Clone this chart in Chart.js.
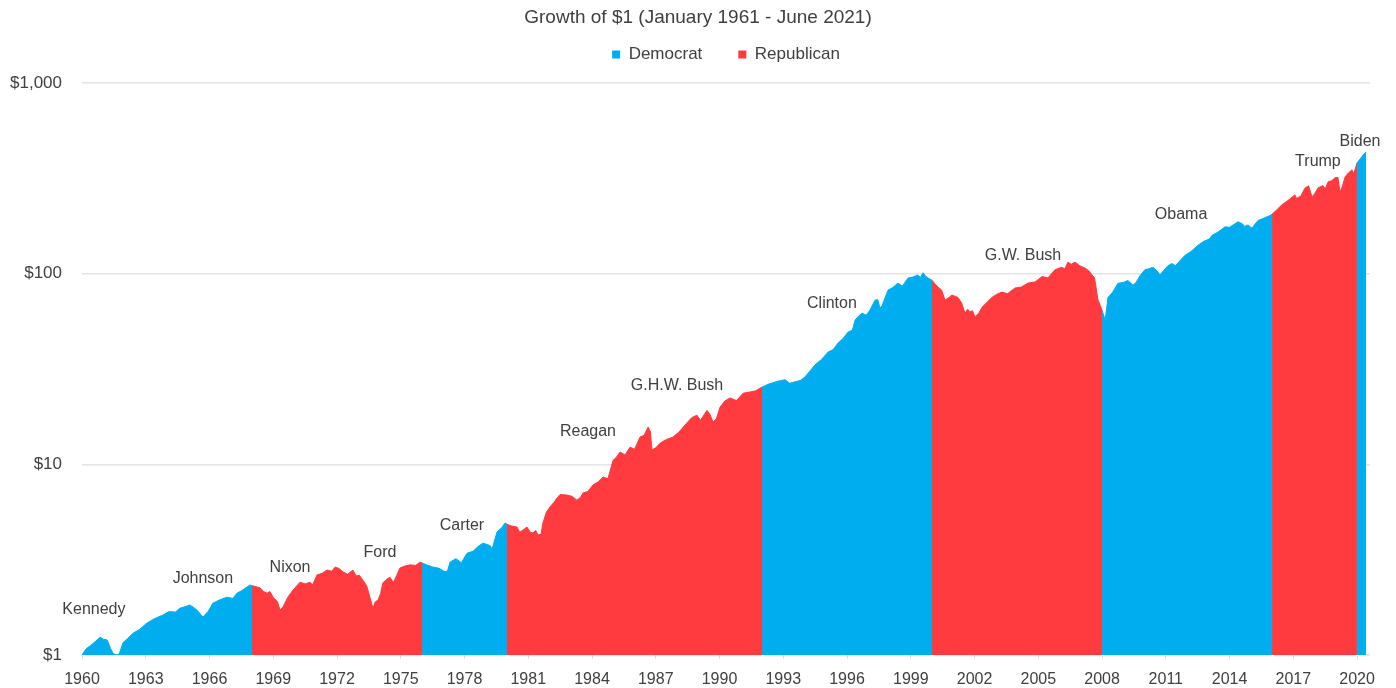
<!DOCTYPE html>
<html>
<head>
<meta charset="utf-8">
<script src="https://cdn.jsdelivr.net/npm/chart.js@4.4.0/dist/chart.umd.min.js"></script>
<style>
html,body{margin:0;padding:0;background:#ffffff;}
#wrap{width:1396px;height:688px;position:relative;}
</style>
</head>
<body>
<div id="wrap"><canvas id="c" width="1396" height="688"></canvas></div>
<script>
// ---- Data (growth of $1) ----
const dates = [
  1961.00,1961.20,1961.40,1961.60,1961.85,1962.00,1962.18,1962.35,1962.46,1962.60,1962.75,1962.93,
  1963.15,1963.40,1963.70,1964.06,1964.40,1964.81,1965.10,1965.40,1965.61,1965.90,1966.08,1966.30,
  1966.41,1966.69,1966.95,1967.16,1967.50,1967.82,1968.10,1968.29,1968.50,1968.76,1968.90,1969.00,
  1969.20,1969.38,1969.55,1969.71,1969.85,1969.99,1970.20,1970.32,1970.40,1970.46,1970.70,1970.93,
  1971.10,1971.26,1971.50,1971.73,1971.85,1972.06,1972.30,1972.53,1972.75,1972.91,1973.10,1973.28,
  1973.50,1973.75,1973.90,1974.05,1974.22,1974.40,1974.55,1974.69,1974.80,1974.93,1975.05,1975.16,
  1975.35,1975.49,1975.65,1975.80,1975.96,1976.20,1976.44,1976.70,1976.91,1977.00,
  1977.25,1977.52,1977.80,1978.08,1978.20,1978.32,1978.60,1978.85,1979.12,1979.40,1979.65,1979.87,
  1980.20,1980.30,1980.53,1980.75,1980.91,1981.00,
  1981.20,1981.47,1981.60,1981.75,1981.94,1982.10,1982.22,1982.35,1982.46,1982.60,1982.69,1982.85,
  1983.02,1983.20,1983.35,1983.50,1983.82,1984.05,1984.29,1984.45,1984.58,1984.80,1985.05,1985.30,
  1985.52,1985.75,1985.99,1986.15,1986.32,1986.55,1986.79,1987.00,1987.26,1987.45,1987.64,1987.75,
  1987.82,1988.00,1988.20,1988.50,1988.81,1989.10,1989.47,1989.70,1989.94,1990.10,1990.41,1990.55,
  1990.69,1990.85,1991.02,1991.25,1991.49,1991.80,1992.11,1992.40,1992.70,1992.91,1993.00,
  1993.25,1993.47,1993.75,1994.08,1994.30,1994.55,1994.80,1995.02,1995.25,1995.49,1995.80,1996.11,
  1996.35,1996.58,1996.80,1997.05,1997.25,1997.38,1997.55,1997.71,1997.90,1998.08,1998.32,1998.45,
  1998.55,1998.65,1998.93,1999.15,1999.40,1999.60,1999.87,2000.10,2000.34,2000.45,2000.58,2000.70,
  2000.81,2001.00,
  2001.15,2001.28,2001.45,2001.61,2001.80,2001.94,2002.10,2002.22,2002.40,2002.55,2002.68,2002.79,
  2002.90,2003.02,2003.20,2003.35,2003.60,2003.82,2004.05,2004.29,2004.55,2004.91,2005.20,2005.52,
  2005.85,2006.18,2006.45,2006.79,2007.10,2007.25,2007.40,2007.55,2007.73,2007.95,2008.20,2008.40,
  2008.53,2008.65,2008.81,2008.92,2009.00,
  2009.15,2009.28,2009.50,2009.75,2010.00,2010.22,2010.46,2010.60,2010.80,2011.02,2011.20,2011.40,
  2011.60,2011.73,2011.90,2012.10,2012.29,2012.45,2012.70,2012.91,2013.20,2013.52,2013.80,2014.05,
  2014.18,2014.45,2014.79,2015.00,2015.40,2015.60,2015.70,2015.87,2016.06,2016.20,2016.34,2016.60,
  2016.91,2017.00,
  2017.20,2017.47,2017.75,2018.08,2018.15,2018.35,2018.55,2018.72,2018.88,2019.00,2019.16,2019.40,
  2019.50,2019.64,2019.80,2019.96,2020.10,2020.20,2020.30,2020.44,2020.60,2020.76,2020.85,2021.00,
  2021.15,2021.28,2021.42
];
const growth = [
  1.00,1.08,1.12,1.17,1.24,1.21,1.20,1.08,1.02,1.00,1.01,1.16,
  1.22,1.30,1.36,1.47,1.55,1.62,1.69,1.68,1.76,1.80,1.83,1.76,
  1.72,1.58,1.70,1.87,1.95,2.01,1.98,2.11,2.17,2.27,2.33,2.31,
  2.28,2.25,2.15,2.11,2.15,2.01,1.90,1.72,1.76,1.79,2.02,2.19,
  2.30,2.41,2.36,2.41,2.33,2.63,2.68,2.79,2.75,2.89,2.84,2.73,
  2.65,2.79,2.60,2.62,2.47,2.30,2.01,1.76,1.90,1.94,2.10,2.39,
  2.50,2.56,2.40,2.60,2.86,2.93,2.97,2.95,3.07,3.04,
  2.96,2.89,2.85,2.73,2.76,3.07,3.20,3.05,3.42,3.50,3.72,3.86,
  3.75,3.60,4.42,4.65,4.93,4.85,
  4.75,4.69,4.40,4.52,4.69,4.40,4.37,4.50,4.26,4.30,4.93,5.60,
  5.98,6.30,6.65,6.95,6.90,6.80,6.49,6.70,7.08,7.20,7.80,8.10,
  8.58,8.40,10.5,10.9,11.6,11.2,12.3,12.0,13.9,14.2,15.7,14.8,
  11.9,12.2,12.9,13.5,13.9,14.8,16.5,17.6,18.1,17.0,19.2,18.3,
  16.7,17.3,19.9,21.5,22.3,21.6,23.6,23.9,24.3,25.1,25.4,
  26.2,26.7,27.3,27.8,26.6,27.1,27.5,28.7,30.8,33.2,35.5,38.8,
  40.0,43.3,45.5,49.4,50.5,57.1,60.0,62.1,60.5,64.4,72.7,73.0,
  66.0,68.0,82.0,84.5,89.3,86.0,94.8,96.0,98.5,95.5,101,97.0,
  94.8,92.4,
  88.0,85.0,82.0,72.7,75.0,77.2,76.0,75.1,70.0,62.1,65.0,62.9,
  64.0,59.4,62.0,66.6,71.0,75.1,78.0,80.1,78.5,84.2,85.0,89.3,
  90.5,96.6,95.0,105,108,106,115,112,115,110,107,103,
  98.5,95.0,72.7,68.0,64.4,
  57.0,75.0,80.0,89.0,90.0,92.0,87.0,90.0,98.0,105,106,108,
  103,98.5,104,110,113,110,118,125,131,141,148,152,
  159,165,176,175,187,183,177,180,173,182,190,195,
  202,205,
  215,230,242,259,248,255,281,289,253,262,281,290,
  278,303,307,318,320,268,285,322,338,350,335,381,
  400,418,435
];

// Administrations: start dates and party
const termStarts  = [1961, 1969, 1977, 1981, 1993, 2001, 2009, 2017, 2021];
const termParties = ['Democrat','Republican','Democrat','Republican','Democrat','Republican','Democrat','Republican','Democrat'];

// President name annotations (anchored in data space)
const presidents          = ['Kennedy','Johnson','Nixon','Ford','Carter','Reagan','G.H.W. Bush','Clinton','G.W. Bush','Obama','Trump','Biden'];
const presidentLabelDates = [1961.56, 1966.69, 1970.79, 1975.02, 1978.88, 1984.81, 1989.0, 1996.29, 2005.28, 2012.72, 2019.16, 2021.14];
const presidentLabelValues= [1.74, 2.53, 2.89, 3.43, 4.75, 14.8, 25.8, 69.3, 124, 203, 385, 490];

// Axis ticks
const xTickAt     = [1961,1964,1967,1970,1973,1976,1979,1982,1985,1988,1991,1994,1997,2000,2003,2006,2009,2012,2015,2018,2021];
const xTickLabels = ['1960','1963','1966','1969','1972','1975','1978','1981','1984','1987','1990','1993','1996','1999','2002','2005','2008','2011','2014','2017','2020'];
const yTickValues = [1, 10, 100, 1000];
const yTickLabels = ['$1', '$10', '$100', '$1,000'];

const partyColors = { Democrat: '#00AEEF', Republican: '#FF3B3F' };
const parties = ['Democrat', 'Republican'];

// ---- Build datasets, one per administration ----
const points = dates.map((d, i) => ({ x: d, y: growth[i] }));
const datasets = termStarts.map((start, i) => {
  const end = i + 1 < termStarts.length ? termStarts[i + 1] : Infinity;
  const party = termParties[i];
  return {
    label: party,
    data: points.filter(p => p.x >= start - 1e-9 && p.x <= end + 1e-9),
    backgroundColor: partyColors[party],
    borderColor: partyColors[party],
    borderWidth: 1,
    pointRadius: 0,
    tension: 0,
    fill: 'start'
  };
});

const FONT = '"Liberation Sans", Arial, Helvetica, sans-serif';
const TEXT = '#404040';
Chart.defaults.font.family = FONT;
Chart.defaults.color = TEXT;

const presLabels = {
  id: 'presLabels',
  afterDatasetsDraw(chart) {
    const { ctx, scales: { x, y } } = chart;
    ctx.save();
    ctx.font = '16px ' + FONT;
    ctx.fillStyle = TEXT;
    ctx.textAlign = 'center';
    ctx.textBaseline = 'middle';
    presidents.forEach((name, i) => {
      ctx.fillText(name, x.getPixelForValue(presidentLabelDates[i]), y.getPixelForValue(presidentLabelValues[i]));
    });
    ctx.restore();
  }
};

new Chart(document.getElementById('c'), {
  type: 'line',
  data: { datasets },
  plugins: [presLabels],
  options: {
    responsive: false,
    animation: false,
    events: [],
    layout: { padding: { left: 0, right: 0, top: 0, bottom: 0 } },
    plugins: {
      title: {
        display: true,
        text: 'Growth of $1 (January 1961 - June 2021)',
        color: TEXT,
        font: { size: 19, weight: 'normal', lineHeight: 1 },
        padding: { top: 8, bottom: -17 }
      },
      subtitle: {
        display: true,
        text: ' ',
        position: 'top',
        weight: 500,
        font: { size: 10, lineHeight: 1 },
        padding: 0
      },
      legend: {
        display: true,
        position: 'top',
        fullSize: false,
        onClick: null,
        labels: {
          boxWidth: 8,
          boxHeight: 8,
          padding: 36,
          color: TEXT,
          font: { size: 17 },
          generateLabels: () => parties.map(p => ({
            text: p,
            fillStyle: partyColors[p],
            strokeStyle: partyColors[p],
            fontColor: TEXT,
            lineWidth: 0,
            hidden: false
          }))
        }
      },
      tooltip: { enabled: false }
    },
    scales: {
      x: {
        type: 'linear',
        min: 1961,
        max: 2021.61,
        afterBuildTicks: s => { s.ticks = xTickAt.map(v => ({ value: v })); },
        afterFit: s => { s.height = 33; },
        ticks: {
          autoSkip: false,
          maxRotation: 0,
          padding: 11,
          font: { size: 16 },
          color: TEXT,
          callback: v => xTickLabels[xTickAt.indexOf(v)]
        },
        grid: { drawOnChartArea: false, drawTicks: true, tickLength: 4, color: '#dddddd' },
        border: { display: false }
      },
      y: {
        type: 'logarithmic',
        min: 1,
        max: 1000,
        afterBuildTicks: s => { s.ticks = yTickValues.map(v => ({ value: v })); },
        afterFit: s => { s.width = 82; },
        ticks: {
          padding: 20,
          font: { size: 17 },
          color: TEXT,
          callback: v => yTickLabels[yTickValues.indexOf(v)]
        },
        grid: { color: '#e4e4e4', lineWidth: 1.5, drawTicks: false },
        border: { display: false }
      },
      // empty right-hand margin (no ticks, no grid) so the plot ends where the reference does
      rightMargin: {
        type: 'linear',
        position: 'right',
        display: true,
        afterFit: s => { s.width = 26; },
        ticks: { display: false },
        grid: { display: false, drawTicks: false },
        border: { display: false }
      }
    }
  }
});
</script>
</body>
</html>
